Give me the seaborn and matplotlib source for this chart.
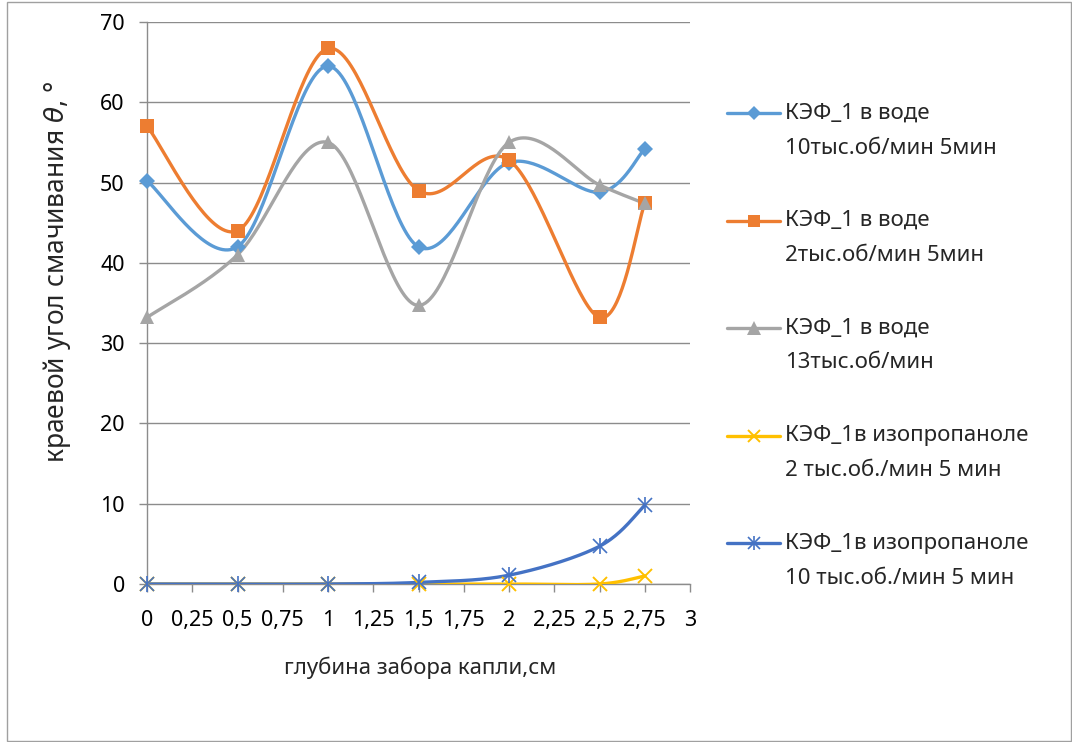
import numpy as np
import pandas as pd
import matplotlib
matplotlib.use("Agg")
import matplotlib.pyplot as plt
from matplotlib.lines import Line2D
from matplotlib.patches import Rectangle
import seaborn as sns

# depth of droplet sampling, cm
depth = [0, 0.5, 1, 1.5, 2, 2.5, 2.75]

water_10k = [50.2, 42.0, 64.5, 42.0, 52.5, 48.8, 54.2]
water_2k = [57.0, 44.0, 66.7, 49.0, 52.8, 33.2, 47.4]
water_13k = [33.2, 41.0, 55.0, 34.7, 55.0, 49.7, 47.4]
ipa_2k = [0.0, 0.0, 0.0, 0.0, 0.0, 0.0, 1.0]
ipa_10k = [0.0, 0.0, 0.0, 0.2, 1.1, 4.7, 9.8]

labels = [
    "КЭФ_1 в воде\n10тыс.об/мин 5мин",
    "КЭФ_1 в воде\n2тыс.об/мин 5мин",
    "КЭФ_1 в воде\n13тыс.об/мин",
    "КЭФ_1в изопропаноле\n2 тыс.об./мин 5 мин",
    "КЭФ_1в изопропаноле\n10 тыс.об./мин 5 мин",
]
x_ticks = [0, 0.25, 0.5, 0.75, 1, 1.25, 1.5, 1.75, 2, 2.25, 2.5, 2.75, 3]
y_ticks = [0, 10, 20, 30, 40, 50, 60, 70]

series = [water_10k, water_2k, water_13k, ipa_2k, ipa_10k]
colors = ["#5B9BD5", "#ED7D31", "#A5A5A5", "#FFC000", "#4472C4"]
markers = ["D", "s", "^", "x", "star"]
msizes = [8, 10, 10.5, 10, 10]

sns.set_theme(style="white")
plt.rcParams["font.family"] = ["Noto Sans", "DejaVu Sans"]
plt.rcParams["mathtext.fontset"] = "dejavusans"


def smooth(xs, ys, n=40):
    """Bezier smoothing with Catmull-Rom control points (spreadsheet-style)."""
    p = np.column_stack([xs, ys]).astype(float)
    p = np.vstack([p[0], p, p[-1]])
    out = []
    t = np.linspace(0, 1, n)[:, None]
    for i in range(1, len(p) - 2):
        p0, p1, p2, p3 = p[i - 1], p[i], p[i + 1], p[i + 2]
        c1 = p1 + (p2 - p0) / 6
        c2 = p2 - (p3 - p1) / 6
        seg = ((1 - t) ** 3) * p1 + 3 * ((1 - t) ** 2) * t * c1 + 3 * (1 - t) * t ** 2 * c2 + t ** 3 * p2
        out.append(seg if i == 1 else seg[1:])
    c = np.vstack(out)
    return c[:, 0], c[:, 1]


def marker_lines(x, y, kind, color, size, **kw):
    """Return Line2D objects drawing one marker style (the star is x plus |)."""
    base = dict(linestyle="none", color=color, zorder=5, clip_on=False, **kw)
    if kind == "star":
        return [Line2D(x, y, marker="x", markersize=size, markeredgewidth=1.2, **base),
                Line2D(x, y, marker="|", markersize=size * 1.15, markeredgewidth=1.2, **base)]
    if kind == "x":
        return [Line2D(x, y, marker="x", markersize=size, markeredgewidth=1.4, **base)]
    return [Line2D(x, y, marker=kind, markersize=size, markeredgewidth=0, **base)]


W, H = 1072, 742
fig = plt.figure(figsize=(W / 100, H / 100), dpi=100)
ax = fig.add_axes([147 / W, 1 - 584 / H, (690 - 147) / W, (584 - 22) / H])

for ys, col, mk, ms in zip(series, colors, markers, msizes):
    sx, sy = smooth(depth, ys)
    df = pd.DataFrame({"x": sx, "y": sy})
    sns.lineplot(data=df, x="x", y="y", ax=ax, color=col, linewidth=2.4,
                 sort=False, estimator=None, zorder=3)
    for ln in marker_lines(depth, ys, mk, col, ms):
        ax.add_line(ln)

ax.set_xlim(0, 3)
ax.set_ylim(0, 70)
ax.set_xticks(x_ticks)
ax.set_xticklabels([f"{v:g}".replace(".", ",") for v in x_ticks])
ax.set_yticks(y_ticks)
ax.set_yticklabels([str(v) for v in y_ticks])
ax.set_xlabel("")
ax.set_ylabel("")
ax.yaxis.grid(True, color="#8C8C8C", linewidth=1.0)
ax.xaxis.grid(False)
for s in ["top", "right"]:
    ax.spines[s].set_visible(False)
for s in ["left", "bottom"]:
    ax.spines[s].set_color("#8C8C8C")
    ax.spines[s].set_linewidth(1.0)
ax.tick_params(axis="x", direction="out", length=6, width=1, color="#8C8C8C",
               pad=13, labelsize=15.5, labelcolor="black", bottom=True)
ax.tick_params(axis="y", direction="out", length=6, width=1, color="#8C8C8C",
               pad=10, labelsize=15.5, labelcolor="black", left=True)

fig.text(420 / W, 1 - 668 / H, "глубина забора капли,см", ha="center", va="center",
         fontsize=16)
fig.text(57 / W, 1 - 272 / H, "краевой угол смачивания $\\theta$, °", ha="center",
         va="center", rotation=90, fontsize=19)

# legend, drawn entry by entry with the handle beside the first text line
for i, (lab, col, mk, ms) in enumerate(zip(labels, colors, markers, msizes)):
    yc = 1 - (113 + i * 107.5) / H
    fig.add_artist(Line2D([727 / W, 780 / W], [yc, yc], color=col, linewidth=2.4,
                          transform=fig.transFigure))
    for ln in marker_lines([753.5 / W], [yc], mk, col, ms * 0.9, transform=fig.transFigure):
        fig.add_artist(ln)
    line1, line2 = lab.split("\n")
    fig.text(785 / W, yc, line1, ha="left", va="center", fontsize=16)
    fig.text(785 / W, yc - 35 / H, line2, ha="left", va="center", fontsize=16)

fig.add_artist(Rectangle((7 / W, 1 / H), (W - 8) / W, (H - 3) / H, fill=False,
                         edgecolor="#A0A0A0", linewidth=1.0, transform=fig.transFigure))

fig.savefig("out.png", dpi=100)
